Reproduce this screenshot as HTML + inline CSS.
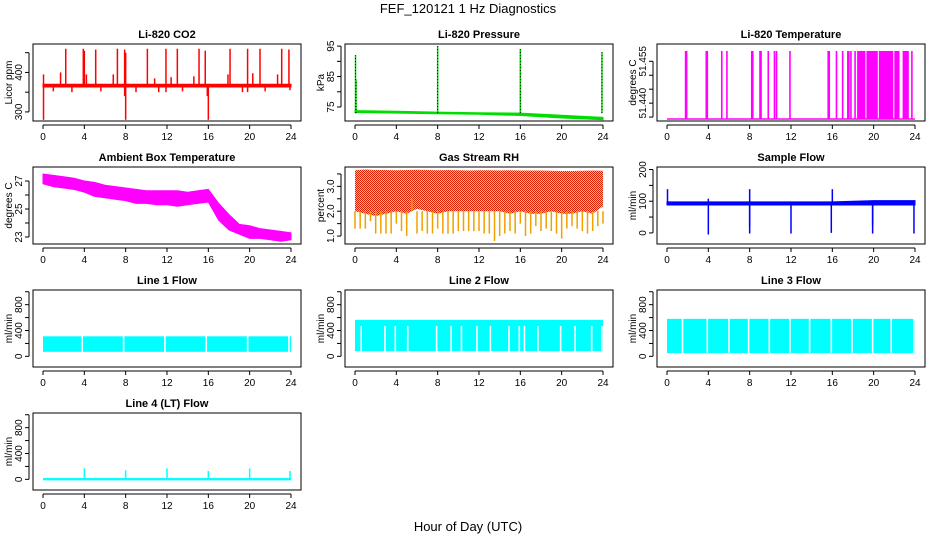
<!DOCTYPE html>
<html><head><meta charset="utf-8"><style>
html,body{margin:0;padding:0;background:#fff}
svg{display:block;font-family:"Liberation Sans",Arial,sans-serif}
</style></head><body>
<svg id="chart" width="936" height="540" viewBox="0 0 936 540">
<defs>
<pattern id="rhpat" width="2" height="2" patternUnits="userSpaceOnUse">
<rect width="2" height="2" fill="#ffd000"/><rect width="1" height="1" fill="#e02000"/><rect x="1" y="1" width="1" height="1" fill="#e02000"/>
</pattern>
</defs>
<text x="468" y="13" font-size="13" text-anchor="middle">FEF_120121  1 Hz Diagnostics</text>
<text x="468" y="531" font-size="13" text-anchor="middle">Hour of Day (UTC)</text>
</svg>
<script>
// ---------- data ----------
const xTicks = [0,4,8,12,16,20,24];
// CO2
const co2BandLow = [363,363,363,363,363,363,363];
const co2BandHigh = [370,370,370,370,370,370,370];
const co2SpikeHours = [0.05,1.7,2.2,3.9,4.0,4.2,5.1,6.8,7.2,7.9,8.0,10.1,10.8,11.9,12.4,13.0,14.6,15.1,15.7,17.9,18.1,19.8,20.3,21.0,22.7,23.1,23.8,0.05,1.0,2.8,5.6,7.9,8.0,9.0,11.2,11.9,13.5,15.9,16.0,19.3,19.8,21.5,23.9];
const co2SpikeValues = [395,400,460,460,455,395,458,395,460,458,450,460,385,460,388,460,390,460,455,395,460,460,398,460,395,460,458,280,352,350,352,340,280,350,350,350,352,340,280,350,350,352,355];
// Pressure
const presBandLow = [73.2,73.0,72.8,72.6,72.2,71.4,70.8];
const presBandHigh = [73.8,73.6,73.3,73.1,73.0,72.3,71.6];
const presSpikeHours = [0.05,0.1,8.0,16.0,23.9];
const presSpikeValues = [92,84,95,94,93];
// Li-820 temperature
const tempSpikeHours = [1.8,1.9,3.8,3.9,5.3,5.8,8.2,8.3,9.0,9.1,9.8,10.4,10.6,11.9,15.6,15.7,16.4,17.0,17.5,17.6,17.8,18.2,23.7];
const tempBlockStart = [18.4,19.3,20.5,22.0,22.8];
const tempBlockEnd = [19.2,20.4,21.9,22.5,23.4];
const tempLow = 51.4336, tempHigh = 51.4587;
// Ambient box temperature (hourly envelopes)
const ambHigh = [27.5,27.4,27.3,27.2,27.0,26.9,26.7,26.6,26.5,26.4,26.3,26.3,26.3,26.3,26.2,26.3,26.4,25.4,24.6,23.9,23.8,23.6,23.5,23.4,23.3];
const ambLow = [26.8,26.6,26.5,26.4,26.2,25.9,25.8,25.7,25.6,25.4,25.4,25.3,25.3,25.2,25.3,25.4,25.5,24.2,23.5,23.2,22.9,22.9,22.8,22.7,22.8];
// Gas stream RH
const rhHigh = [3.65,3.68,3.66,3.66,3.65,3.66,3.67,3.66,3.65,3.66,3.65,3.64,3.65,3.65,3.64,3.65,3.64,3.64,3.64,3.63,3.62,3.62,3.63,3.64,3.63];
const rhDense = [2.0,1.9,1.8,1.9,2.0,1.9,2.1,2.0,1.9,2.0,2.0,2.0,2.0,2.0,2.0,1.9,2.0,1.9,1.9,2.0,1.9,1.9,2.0,1.9,2.2];
const rhLow = [1.3,1.3,1.3,1.6,1.1,1.1,1.1,1.1,1.5,1.2,1.0,2.5,1.1,1.2,1.1,1.1,1.3,1.1,1.1,1.1,1.2,1.2,1.2,1.2,1.2,1.1,1.1,0.8,1.0,1.1,1.2,1.1,1.5,1.0,1.1,1.4,1.2,1.3,1.2,1.1,0.9,1.3,1.4,1.3,1.2,1.1,1.2,1.4,1.5];
// Sample flow
const sfBandLow = [88,88,88,88,88,88,88];
const sfBandHigh = [98,98,98,98,98,102,102];
const sfSpikeHours = [0.05,4.0,8.0,16.0,4.0,8.0,8.0,12.0,15.9,19.9,19.9,23.9];
const sfSpikeValues = [138,108,138,138,-5,-2,20,-2,0,-2,25,-2];
// Line flows (bands)
const l1Low = 70, l1High = 310;
const l1Gaps = [3.8,7.8,11.8,15.8,19.8,23.8];
const l2Low = 80, l2High = 565;
const l2Gaps = [0.6,2.9,3.9,5.1,7.9,9.3,10.3,11.8,13.1,14.9,15.9,16.4,17.7,19.9,21.3,22.9,23.9];
const l3Low = 50, l3High = 580;
const l3Gaps = [1.5,3.9,6.0,7.9,9.9,11.9,13.8,15.9,17.9,19.9,21.7,23.9];
const l4Base = 20;
const l4SpikeHours = [4.0,8.0,12.0,16.0,20.0,23.9];
const l4SpikeValues = [170,140,170,130,170,130];

// ---------- helpers ----------
const svg = document.getElementById('chart');
const NS = 'http://www.w3.org/2000/svg';
function mk(tag, attrs, parent){ const e=document.createElementNS(NS,tag); for(const k in attrs) e.setAttribute(k,attrs[k]); (parent||svg).appendChild(e); return e; }
const colX = [0,312,624], rowY = [44,167,290,413], PH = 77;
function panel(col,row,title,ylab,ymin,ymax,yticks,ylabels,name){
  const left = colX[col]+33, right = colX[col]+301, top=rowY[row], bot=top+PH;
  const g = mk('g',{});
  
  
  const sx = h => colX[col]+43 + h*(248/24);
  const sy = v => bot - (v-ymin)/(ymax-ymin)*PH;
  const t = mk('text',{x:(left+right)/2,y:top-6,'font-size':11,'font-weight':'bold','text-anchor':'middle'},g);
  t.textContent = title;
  
  
  const box = mk('rect',{x:left,y:top,width:right-left,height:PH,fill:'none',stroke:'#000','stroke-width':1},g);
  
  
  const xa = mk('g',{},g);
  
  
  mk('line',{x1:sx(0),x2:sx(24),y1:bot+4,y2:bot+4,stroke:'#000'},xa);
  xTicks.forEach(h=>{ mk('line',{x1:sx(h),x2:sx(h),y1:bot+4,y2:bot+8,stroke:'#000'},xa);
    const l=mk('text',{x:sx(h),y:bot+19,'font-size':10,'text-anchor':'middle'},xa); l.textContent=h;
      });
  const ya = mk('g',{},g);
  
  
  const ax = left-4;
  mk('line',{x1:ax,x2:ax,y1:sy(yticks[0]),y2:sy(yticks[yticks.length-1]),stroke:'#000'},ya);
  yticks.forEach(v=>mk('line',{x1:ax,x2:ax-4,y1:sy(v),y2:sy(v),stroke:'#000'},ya));
  ylabels.forEach(v=>{ const l=mk('text',{x:0,y:0,'font-size':10,'text-anchor':'middle',transform:`translate(${ax-7},${sy(parseFloat(v))}) rotate(-90)`},ya); l.textContent=v;
      });
  const yt = mk('text',{x:0,y:0,'font-size':10,'text-anchor':'middle',transform:`translate(${colX[col]+12},${top+PH/2}) rotate(-90)`},g);
  yt.textContent = ylab;
  
  
  const clipId='clip'+name;
  const cp = mk('clipPath',{id:clipId},g); mk('rect',{x:left,y:top,width:right-left,height:PH},cp);
  const plot = mk('g',{'clip-path':`url(#${clipId})`},g);
  return {sx,sy,plot,g};
}
function bandPoly(p,hours,lo,hi,fill){
  let pts = hours.map((h,i)=>`${p.sx(h)},${p.sy(hi[i])}`);
  for(let i=hours.length-1;i>=0;i--) pts.push(`${p.sx(hours[i])},${p.sy(lo[i])}`);
  return mk('polygon',{points:pts.join(' '),fill:fill,stroke:fill,'stroke-width':1},p.plot);
}
function vline(p,h,v0,v1,color,w){ return mk('line',{x1:p.sx(h),x2:p.sx(h),y1:p.sy(v0),y2:p.sy(v1),stroke:color,'stroke-width':w||1.3},p.plot); }
const hrs6 = xTicks;
const hrs24 = ambHigh.map((_,i)=>i);

// CO2
{ const p=panel(0,0,'Li-820 CO2','Licor ppm',277,472,[300,350,400,450],['300','400'],'co2');
  const b=bandPoly(p,hrs6,co2BandLow,co2BandHigh,'#ff0000');  
  co2SpikeHours.forEach((h,i)=>{ const l=vline(p,h,366,co2SpikeValues[i],'#ff0000',1.5);   }); }
// Pressure
{ const p=panel(1,0,'Li-820 Pressure','kPa',70.4,95.7,[75,80,85,90,95],['75','85','95'],'pressure');
  const b=bandPoly(p,hrs6,presBandLow,presBandHigh,'#00dd00');  
  presSpikeHours.forEach((h,i)=>{ const l=vline(p,h,73,presSpikeValues[i],'#00dd00',1.5);  
    const d=vline(p,h,73,presSpikeValues[i],'#000',1); d.setAttribute('stroke-dasharray','1,2');   }); }
// Li-820 Temperature
{ const p=panel(2,0,'Li-820 Temperature','degrees C',51.4336,51.4612,[51.435,51.440,51.445,51.450,51.455],['51.440','51.455'],'li820-temp');
  const base=mk('line',{x1:p.sx(0),x2:p.sx(24),y1:p.sy(tempLow)-2,y2:p.sy(tempLow)-2,stroke:'#ff00ff','stroke-width':1.5},p.plot);
   
  tempSpikeHours.forEach(h=>{ const l=vline(p,h,tempLow+0.0007,tempHigh,'#ff00ff',1.6);   });
  tempBlockStart.forEach((s,i)=>{ const r=mk('rect',{x:p.sx(s),y:p.sy(tempHigh),width:p.sx(tempBlockEnd[i])-p.sx(s),height:p.sy(tempLow+0.0007)-p.sy(tempHigh),fill:'#ff00ff'},p.plot);
      }); }
// Ambient
{ const p=panel(0,1,'Ambient Box Temperature','degrees C',22.5,28.0,[23,24,25,26,27],['23','25','27'],'ambient-temp');
  const b=bandPoly(p,hrs24,ambLow,ambHigh,'#ff00ff');   }
// RH
{ const p=panel(1,1,'Gas Stream RH','percent',0.68,3.78,[1.0,1.5,2.0,2.5,3.0,3.5],['1.0','2.0','3.0'],'rh');
  const b=bandPoly(p,hrs24,rhDense,rhHigh,'url(#rhpat)'); b.setAttribute('stroke','none');  
  rhLow.forEach((v,i)=>{ const l=vline(p,i*0.5,2.0,v,'#f0a000',1.5);   }); }
// Sample flow
{ const p=panel(2,1,'Sample Flow','ml/min',-35,208,[0,50,100,150,200],['0','100','200'],'sample-flow');
  const b=bandPoly(p,hrs6,sfBandLow,sfBandHigh,'#0000ff');  
  sfSpikeHours.forEach((h,i)=>{ const l=vline(p,h,93,sfSpikeValues[i],'#0000ff',1.5);   }); }
// Line flows
function flowPanel(col,row,title,name,lo,hi,gaps,gapTop){
  const p=panel(col,row,title,'ml/min',-165,1027,[0,200,400,600,800,1000],['0','400','800'],name);
  const r=mk('rect',{x:p.sx(0),y:p.sy(hi),width:p.sx(24)-p.sx(0),height:p.sy(lo)-p.sy(hi),fill:'#00ffff'},p.plot);
   
  gaps.forEach(h=>{ const l=vline(p,h,lo-5,gapTop,'#ffffff',1.6);   });
  return p;
}
flowPanel(0,2,'Line 1 Flow','line1-flow',l1Low,l1High,l1Gaps,l1High+5);
flowPanel(1,2,'Line 2 Flow','line2-flow',l2Low,l2High,l2Gaps,470);
flowPanel(2,2,'Line 3 Flow','line3-flow',l3Low,l3High,l3Gaps,l3High+5);
{ const p=panel(0,3,'Line 4 (LT) Flow','ml/min',-165,1027,[0,200,400,600,800,1000],['0','400','800'],'line4-flow');
  const b=mk('rect',{x:p.sx(0),y:p.sy(l4Base),width:p.sx(24)-p.sx(0),height:p.sy(0)-p.sy(l4Base)+1,fill:'#00ffff'},p.plot);
   
  l4SpikeHours.forEach((h,i)=>{ const l=vline(p,h,0,l4SpikeValues[i],'#00ffff',1.5);   }); }
</script>
</body></html>
